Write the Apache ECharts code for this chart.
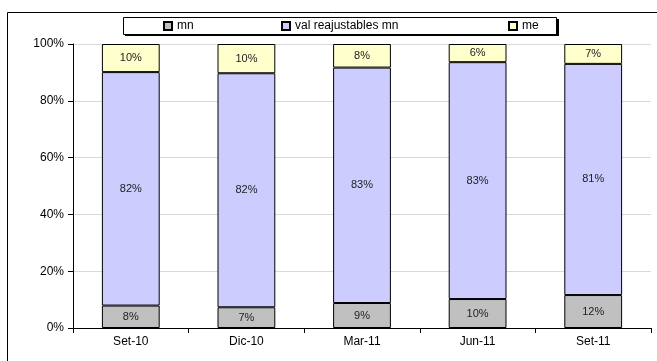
<!DOCTYPE html>
<html>
<head>
<meta charset="utf-8">
<script src="https://cdn.jsdelivr.net/npm/echarts@6/dist/echarts.min.js"></script>
<style>
html,body{margin:0;padding:0;background:#fff;}
#chart{width:657px;height:361px;}
</style>
</head>
<body>
<div id="chart"></div>
<script>
const categories = ['Set-10', 'Dic-10', 'Mar-11', 'Jun-11', 'Set-11'];
const mnValues = [7.9, 7.3, 8.8, 10.2, 11.6];
const valReajValues = [82.2, 82.4, 82.9, 83.4, 81.4];
const meValues = [9.9, 10.3, 8.3, 6.4, 7.0];
const yTicks = [0, 20, 40, 60, 80, 100];
const seriesNames = ['mn', 'val reajustables mn', 'me'];
const colors = ['#c0c0c0', '#ccccff', '#ffffcc'];

const chart = echarts.init(document.getElementById('chart'));
const font = 'Liberation Sans, Arial, sans-serif';

function mkSeries(name, data, color) {
  return {
    name: name,
    type: 'bar',
    stack: 'total',
    data: data,
    barWidth: '50%',
    itemStyle: { color: color, borderColor: '#000', borderWidth: 1 },
    label: {
      show: true,
      position: 'inside',
      color: '#222',
      fontFamily: font,
      fontSize: 11,
      formatter: p => Math.round(p.value) + '%'
    },
    emphasis: { disabled: true }
  };
}

const legendPos = [163, 281, 508];
const option = {
  animation: false,
  backgroundColor: '#fff',
  graphic: [
    { type: 'rect', shape: { x: 7.5, y: 12.5, width: 700, height: 400 }, style: { fill: 'none', stroke: '#000', lineWidth: 1 }, z: -10 },
    { type: 'rect', shape: { x: 125, y: 19, width: 434, height: 17 }, style: { fill: '#000' }, z: -5 },
    { type: 'rect', shape: { x: 123.5, y: 17.5, width: 433, height: 17 }, style: { fill: '#fff', stroke: '#000', lineWidth: 1 }, z: -4 }
  ],
  legend: seriesNames.map((n, i) => ({
    data: [n],
    left: legendPos[i],
    top: 20,
    itemWidth: 8,
    itemHeight: 8,
    itemGap: 0,
    padding: 0,
    icon: 'rect',
    textStyle: { fontFamily: font, fontSize: 12, color: '#000' },
    selectedMode: false
  })),
  grid: { left: 73, right: 6, top: 44, bottom: 33, containLabel: false },
  xAxis: {
    type: 'category',
    data: categories,
    axisLine: { lineStyle: { color: '#000', width: 1 } },
    axisTick: { show: true, length: 5, lineStyle: { color: '#000' } },
    axisLabel: { color: '#000', fontFamily: font, fontSize: 12, margin: 8 }
  },
  yAxis: {
    type: 'value',
    min: yTicks[0],
    max: yTicks[yTicks.length - 1],
    interval: 20,
    axisLine: { show: true, lineStyle: { color: '#000' } },
    axisTick: { show: true, length: 5, lineStyle: { color: '#000' } },
    axisLabel: { color: '#000', fontFamily: font, fontSize: 12, margin: 9, formatter: v => v + '%' },
    splitLine: { show: true, lineStyle: { color: '#d9d9d9', width: 1 } }
  },
  series: [
    mkSeries(seriesNames[0], mnValues, colors[0]),
    mkSeries(seriesNames[1], valReajValues, colors[1]),
    mkSeries(seriesNames[2], meValues, colors[2])
  ]
};
chart.setOption(option);
</script>
</body>
</html>
